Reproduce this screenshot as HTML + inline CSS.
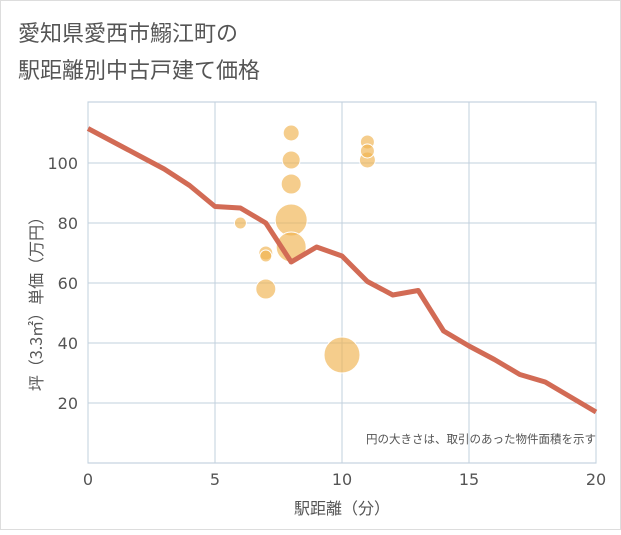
<!DOCTYPE html>
<html><head><meta charset="utf-8"><style>
body{margin:0;background:#fff;}
svg{font-family:"DejaVu Sans","Noto Sans CJK JP",sans-serif;}
</style></head><body>
<svg width="621" height="530">
<rect x="0.5" y="0.5" width="620" height="529" fill="#fff" stroke="#ddd"/>
<text x="18" y="41" font-size="22" fill="#555" font-family="Noto Sans CJK JP, sans-serif">愛知県愛西市鰯江町の</text>
<text x="18" y="78" font-size="22" fill="#555" font-family="Noto Sans CJK JP, sans-serif">駅距離別中古戸建て価格</text>
<g id="grid"></g>
<g id="bubbles"></g>
<path id="line" fill="none" stroke="#d26b55" stroke-width="5" stroke-linejoin="round"/>
<g id="ticks"></g>
<text x="596" y="443" font-size="11.5" fill="#555" text-anchor="end" font-family="Noto Sans CJK JP, sans-serif">円の大きさは、取引のあった物件面積を示す</text>
<text x="342" y="514" font-size="16" fill="#555" text-anchor="middle" font-family="Noto Sans CJK JP, sans-serif">駅距離（分）</text>
<text transform="translate(42,300) rotate(-90)" font-size="16" fill="#555" text-anchor="middle" font-family="Noto Sans CJK JP, sans-serif">坪（3.3㎡）単価（万円）</text>
</svg>
<script>
const xTicks=[0,5,10,15,20];
const yTicks=[20,40,60,80,100];
const lineX=[0,1,2,3,4,5,6,7,8,9,10,11,12,13,14,15,16,17,18,19,20];
const lineY=[111.5,107,102.5,98,92.5,85.5,85,80,67,72,69,60.5,56,57.5,44,39,34.5,29.5,27,22,17];
const bubX=[6,7,7,7,8,8,8,8,8,10,11,11,11];
const bubY=[80,70,69,58,110,101,93,81,72,36,107,101,104];
const bubR=[6,7,6,10,8,9,10,16,15,18,7,8,7];
const X0=88,X1=596,YB=463,YT=102;
const sx=v=>X0+(X1-X0)*v/20, sy=v=>YB-3*v;
const ns='http://www.w3.org/2000/svg';
const g=document.getElementById('grid'),t=document.getElementById('ticks'),b=document.getElementById('bubbles');
function mk(tag,a,p){const e=document.createElementNS(ns,tag);for(const k in a)e.setAttribute(k,a[k]);p.appendChild(e);return e;}
const bg=mk('rect',{x:X0,y:YT,width:X1-X0,height:YB-YT,fill:'none',stroke:'#b8c8d8'},g);


xTicks.forEach(v=>{const l=mk('line',{x1:sx(v),x2:sx(v),y1:YT,y2:YB,stroke:'#c2d0de'},g);


const tx=mk('text',{x:sx(v),y:485,'font-size':16,fill:'#555','text-anchor':'middle'},t);tx.textContent=v;

});
yTicks.forEach(v=>{const l=mk('line',{x1:X0,x2:X1,y1:sy(v),y2:sy(v),stroke:'#c2d0de'},g);


const tx=mk('text',{x:78,y:sy(v)+6,'font-size':16,fill:'#555','text-anchor':'end'},t);tx.textContent=v;

});
bubX.forEach((v,i)=>{const c=mk('circle',{cx:sx(v),cy:sy(bubY[i]),r:bubR[i],fill:'#f0b24e','fill-opacity':0.65,stroke:'#fff','stroke-width':1},b);

});
document.getElementById('line').setAttribute('d',lineX.map((v,i)=>(i?'L':'M')+sx(v)+','+sy(lineY[i])).join(''));
</script>
</body></html>
